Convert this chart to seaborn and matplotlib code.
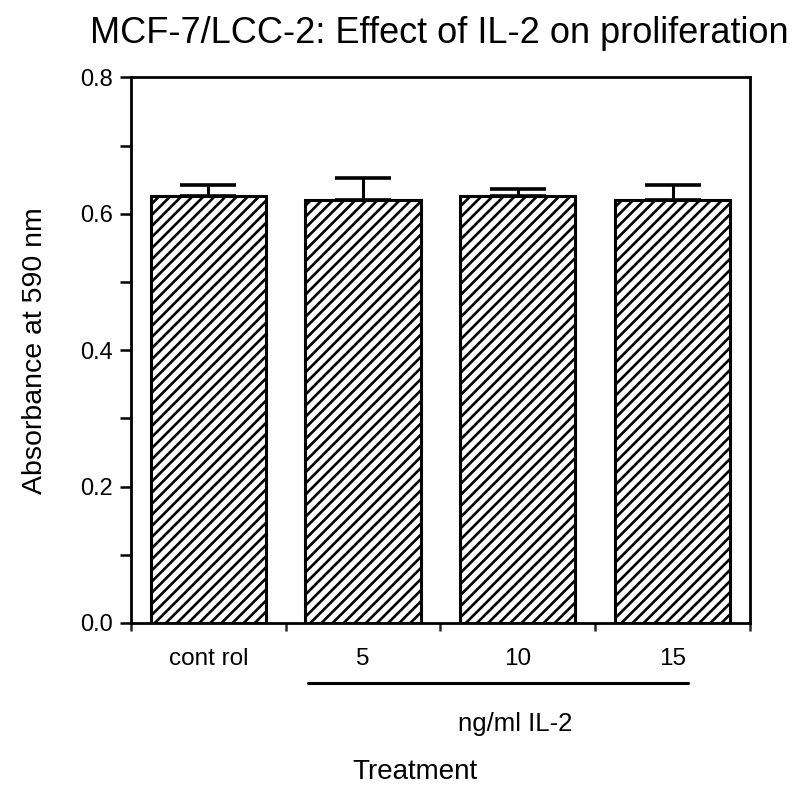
import matplotlib
matplotlib.use("Agg")
import matplotlib.pyplot as plt
from matplotlib.lines import Line2D
from matplotlib.ticker import MultipleLocator, FixedLocator, NullFormatter
import seaborn as sns
import pandas as pd

# ---- data ----
categories = ["cont rol", "5", "10", "15"]
absorbance = [0.626, 0.621, 0.626, 0.621]
sem = [0.016, 0.031, 0.010, 0.021]
title = "MCF-7/LCC-2: Effect of IL-2 on proliferation"
ylabel = "Absorbance at 590 nm"
xlabel = "Treatment"
group_label = "ng/ml IL-2"

sns.set_theme(style="white")
plt.rcParams["font.family"] = ["Liberation Sans", "DejaVu Sans"]
plt.rcParams["hatch.linewidth"] = 1.9
plt.rcParams["hatch.color"] = "black"

df = pd.DataFrame({"cat": categories, "val": absorbance})

fig = plt.figure(figsize=(8.02, 7.86), dpi=100)
ax = fig.add_axes([0.1633, 0.2074, 0.935 - 0.1633, 0.9014 - 0.2074])

sns.barplot(data=df, x="cat", y="val", order=categories, color="white",
            errorbar=None, width=0.745, edgecolor="black", linewidth=2.2,
            hatch="///", ax=ax, zorder=2)
for p in ax.patches:
    p.set_hatch("///")
    p.set_facecolor("white")
    p.set_edgecolor("black")

ax.errorbar(range(len(categories)), absorbance, yerr=[[0] * len(sem), sem],
            fmt="none", ecolor="black", elinewidth=2.2, capsize=20,
            capthick=2.6, zorder=1)

ax.set_xlim(-0.5, 3.5)
ax.set_ylim(0, 0.8)

# y ticks
ax.yaxis.set_minor_locator(MultipleLocator(0.1))
ax.set_yticks([0, 0.2, 0.4, 0.6, 0.8])
ax.set_yticklabels(["0.0", "0.2", "0.4", "0.6", "0.8"])
ax.tick_params(axis="y", which="both", direction="out", length=8, width=1.8,
               left=True, labelsize=17, pad=5, colors="black")

# x ticks: marks at category boundaries, labels at centers
ax.set_xticks(range(len(categories)))
ax.set_xticklabels(categories)
ax.tick_params(axis="x", which="major", length=0, pad=18, labelsize=17.5,
               colors="black")
ax.xaxis.set_minor_locator(FixedLocator([-0.5, 0.5, 1.5, 2.5, 3.5]))
ax.xaxis.set_minor_formatter(NullFormatter())
ax.tick_params(axis="x", which="minor", direction="out", length=6,
               width=1.8, bottom=True)

for s in ax.spines.values():
    s.set_visible(True)
    s.set_color("black")
    s.set_linewidth(2.0)

ax.set_xlabel("")
ax.set_ylabel(ylabel, fontsize=20.5, color="black")
ax.yaxis.set_label_coords((48 - 131) / 619, 0.5)

fig.text(439 / 802, 1 - 43 / 786, title, ha="center", va="baseline",
         fontsize=26, color="black")

# group underline and label
fig.add_artist(Line2D([308 / 802, 688 / 802], [1 - 683 / 786] * 2,
                      color="black", linewidth=2.2))
fig.text(515 / 802, 1 - 724 / 786, group_label, ha="center", va="center",
         fontsize=18.5, color="black")
fig.text(415 / 802, 1 - 772 / 786, xlabel, ha="center", va="center",
         fontsize=20, color="black")

fig.savefig("out.png", dpi=100, facecolor="white")
